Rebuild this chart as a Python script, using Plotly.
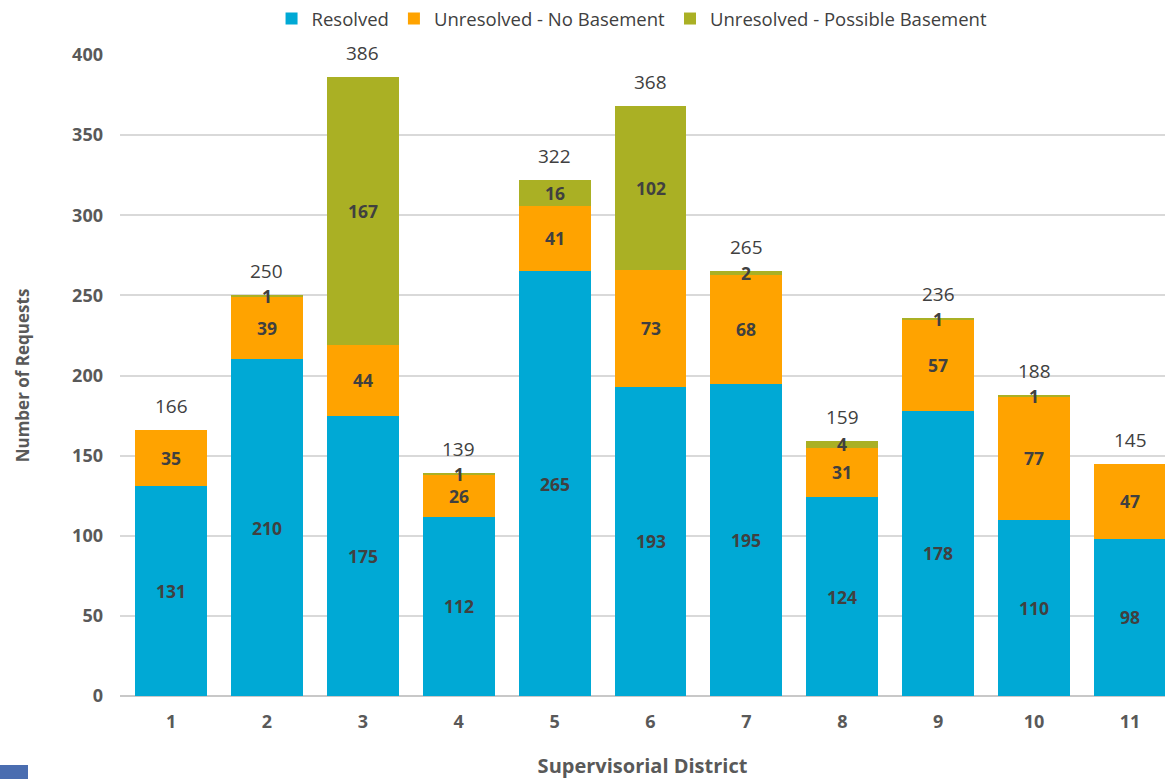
import plotly.graph_objects as go

# Requests per supervisorial district, split by status
districts = ["1", "2", "3", "4", "5", "6", "7", "8", "9", "10", "11"]
resolved = [131, 210, 175, 112, 265, 193, 195, 124, 178, 110, 98]
no_basement = [35, 39, 44, 26, 41, 73, 68, 31, 57, 77, 47]
possible_basement = [0, 1, 167, 1, 16, 102, 2, 4, 1, 1, 0]
y_ticks = [0, 50, 100, 150, 200, 250, 300, 350, 400]

series = [
    ("Resolved", resolved, "#00A9D5"),
    ("Unresolved - No Basement", no_basement, "#FFA300"),
    ("Unresolved - Possible Basement", possible_basement, "#AAB024"),
]

FONT = "Open Sans"
LABEL_COLOR = "#404040"
AXIS_COLOR = "#595959"

fig = go.Figure()
for name, vals, color in series:
    fig.add_trace(go.Bar(
        x=districts, y=vals, name=name,
        marker=dict(color=color, line=dict(width=0)),
        hoverinfo="x+y+name",
    ))

# Segment value labels, centred in each stacked piece
annotations = []
for i, d in enumerate(districts):
    base = 0
    for name, vals, color in series:
        v = vals[i]
        if v > 0:
            annotations.append(dict(
                x=i, y=base + v / 2, text=f"<b>{v}</b>", showarrow=False,
                font=dict(family=FONT, size=17.5, color=LABEL_COLOR),
                xanchor="center", yanchor="middle",
            ))
        base += v
    # Column total above the stack
    annotations.append(dict(
        x=i, y=base, text=str(base), showarrow=False,
        font=dict(family=FONT, size=19, color=LABEL_COLOR),
        xanchor="center", yanchor="bottom", yshift=9,
    ))

fig.update_layout(
    barmode="stack",
    bargap=0.25,
    width=1165, height=779,
    margin=dict(l=120, r=0, t=55, b=83),
    paper_bgcolor="white", plot_bgcolor="white",
    font=dict(family=FONT, color=AXIS_COLOR),
    legend=dict(
        orientation="h", x=0.49, xanchor="center", y=1.0, yanchor="top",
        yref="container", traceorder="normal",
        font=dict(family=FONT, size=18.5, color="#404040"),
        itemwidth=30,
    ),
    annotations=annotations,
    showlegend=True,
)

fig.update_xaxes(
    type="category",
    range=[-0.532, 10.365],
    showgrid=False,
    showline=False,
    ticks="",
    ticklabelstandoff=13,
    tickfont=dict(family=FONT, size=18, color=AXIS_COLOR, weight="bold"),
    title=dict(text="<b>Supervisorial District</b>",
               font=dict(family=FONT, size=20, color=AXIS_COLOR), standoff=27),
)
fig.update_yaxes(
    range=[0, 400],
    tickvals=y_ticks,
    showgrid=True, gridcolor="#D9D9D9", gridwidth=1.5,
    zeroline=True, zerolinecolor="#C8C8C8", zerolinewidth=2,
    showline=False,
    ticks="",
    ticklabelstandoff=16,
    tickfont=dict(family=FONT, size=18, color=AXIS_COLOR, weight="bold"),
    title=dict(text="<b>Number of Requests</b>",
               font=dict(family=FONT, size=17, color=AXIS_COLOR), standoff=38),
)

# Small decorative block in the bottom-left corner
fig.add_shape(
    type="rect", xref="paper", yref="paper",
    x0=-120 / 1045, x1=(28 - 120) / 1045,
    y0=-83 / 641, y1=(-83 + 14) / 641,
    fillcolor="#4A6DB0", line=dict(width=0), layer="above",
)

fig.write_html("out.html")
